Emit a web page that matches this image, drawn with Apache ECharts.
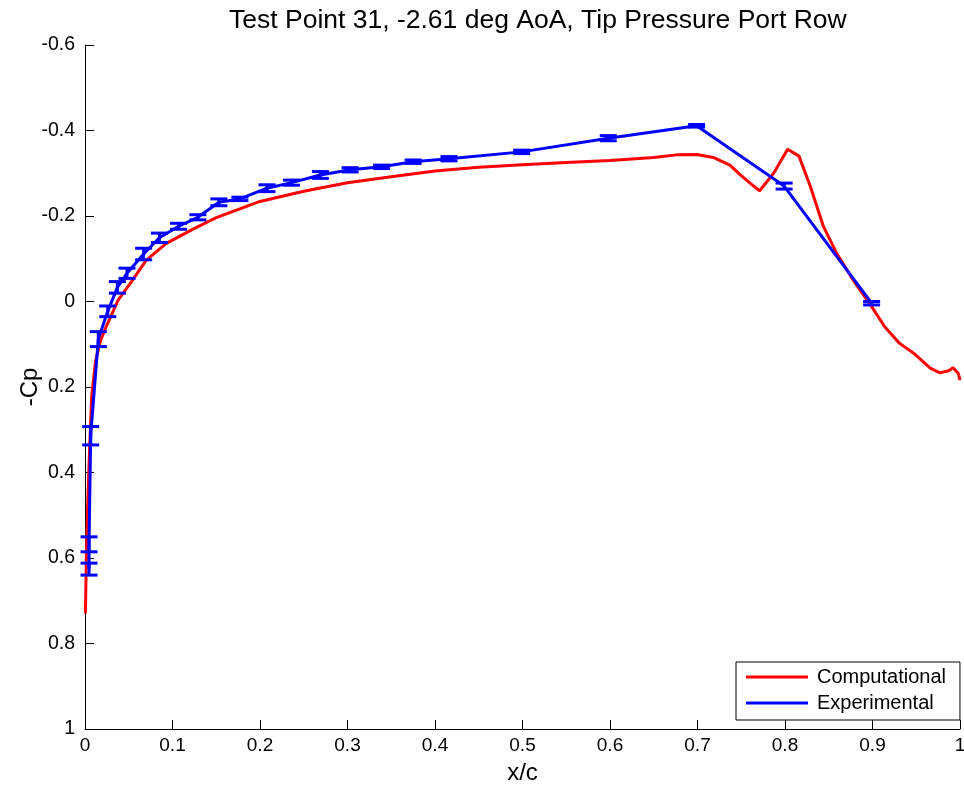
<!DOCTYPE html>
<html>
<head>
<meta charset="utf-8">
<script src="https://cdn.jsdelivr.net/npm/echarts@6/dist/echarts.min.js"></script>
<style>
html,body{margin:0;padding:0;background:#fff;overflow:hidden;}
#chart{width:964px;height:790px;}
</style>
</head>
<body>
<div id="chart"></div>
<script>
// Computational (CFD) -Cp distribution
var compX = [0.0005,0.0015,0.003,0.005,0.0076,0.012,0.018,0.025,0.038,0.053,0.07,0.093,0.124,0.15,0.20,0.25,0.30,0.35,0.40,0.45,0.50,0.55,0.60,0.65,0.676,0.699,0.718,0.737,0.749,0.76,0.771,0.787,0.803,0.816,0.829,0.844,0.859,0.878,0.899,0.914,0.931,0.947,0.966,0.977,0.987,0.992,0.998,1.0];
var compY = [0.73,0.60,0.48,0.36,0.223,0.14,0.09,0.055,-0.004,-0.046,-0.097,-0.136,-0.170,-0.196,-0.234,-0.258,-0.278,-0.292,-0.305,-0.314,-0.320,-0.325,-0.330,-0.337,-0.343,-0.344,-0.337,-0.319,-0.296,-0.277,-0.259,-0.30,-0.356,-0.340,-0.269,-0.175,-0.113,-0.050,0.012,0.059,0.098,0.121,0.156,0.167,0.162,0.155,0.168,0.184];

// Experimental pressure ports
var expX = [0.0046,0.0046,0.0065,0.0152,0.026,0.037,0.048,0.067,0.085,0.107,0.129,0.153,0.177,0.208,0.236,0.269,0.303,0.339,0.375,0.416,0.499,0.598,0.699,0.799,0.899];
var expY = [0.626,0.568,0.314,0.088,0.023,-0.033,-0.066,-0.111,-0.149,-0.176,-0.197,-0.232,-0.240,-0.265,-0.278,-0.296,-0.308,-0.315,-0.327,-0.334,-0.350,-0.382,-0.411,-0.270,0.004];
var expErr = [0.014,0.0175,0.0215,0.0175,0.0125,0.0135,0.012,0.0135,0.011,0.007,0.006,0.008,0.004,0.008,0.006,0.008,0.005,0.004,0.004,0.005,0.004,0.006,0.003,0.007,0.004];

var xTicks = ['0','0.1','0.2','0.3','0.4','0.5','0.6','0.7','0.8','0.9','1'];
var yTicks = ['-0.6','-0.4','-0.2','0','0.2','0.4','0.6','0.8','1'];

var titleText = 'Test Point 31, -2.61 deg AoA, Tip Pressure Port Row';
var FONT = 'Liberation Sans, Arial, sans-serif';

var compData = compX.map(function(x,i){return [x, compY[i]];});
var expData = expX.map(function(x,i){return [x, expY[i]];});
var errData = expX.map(function(x,i){return [x, expY[i], expErr[i]];});

var chart = echarts.init(document.getElementById('chart'), null, {renderer:'canvas', width:964, height:790});
chart.setOption({
  animation:false,
  backgroundColor:'#fff',
  title:{
    text:titleText,
    left:224, top:2,
    textStyle:{fontFamily:FONT, fontSize:26.5, fontWeight:'normal', color:'#000'}
  },
  legend:{
    orient:'vertical',
    left:736, top:662,
    backgroundColor:'#fff',
    borderColor:'#000', borderWidth:1, borderRadius:0,
    padding:[5,14,7,10],
    itemWidth:62, itemHeight:3, itemGap:6,
    icon:'rect',
    textStyle:{fontFamily:FONT, fontSize:20, color:'#000', lineHeight:20, padding:[0,0,0,4]},
    data:['Computational','Experimental']
  },
  grid:{left:85, right:4, top:45, bottom:61, containLabel:false, outerBoundsMode:'none'},
  xAxis:{
    type:'value', min:0, max:1, interval:0.1,
    name:'x/c', nameLocation:'middle', nameGap:32, nameMoveOverlap:false,
    nameTextStyle:{fontFamily:FONT, fontSize:24, color:'#000'},
    axisLine:{show:true, onZero:false, lineStyle:{color:'#000', width:1}},
    axisTick:{show:true, inside:true, length:9, lineStyle:{color:'#000'}},
    axisLabel:{fontFamily:FONT, fontSize:19, color:'#000', margin:7,
      formatter:function(v){return xTicks[Math.round(v*10)];}},
    splitLine:{show:false}
  },
  yAxis:{
    type:'value', min:-0.6, max:1, interval:0.2, inverse:true,
    name:'-Cp', nameLocation:'middle', nameGap:43, nameRotate:90, nameMoveOverlap:false,
    nameTextStyle:{fontFamily:FONT, fontSize:24, color:'#000'},
    axisLine:{show:true, onZero:false, lineStyle:{color:'#000', width:1}},
    axisTick:{show:true, inside:true, length:9, lineStyle:{color:'#000'}},
    axisLabel:{fontFamily:FONT, fontSize:19.5, color:'#000', margin:10,
      formatter:function(v){return yTicks[Math.round((v+0.6)*5)];}},
    splitLine:{show:false}
  },
  series:[
    {
      name:'Computational', type:'line', data:compData,
      showSymbol:false, symbol:'none', smooth:false,
      color:'#ff0000',
      lineStyle:{color:'#ff0000', width:3},
      itemStyle:{color:'#ff0000'},
      z:2
    },
    {
      name:'Experimental', type:'line', data:expData,
      showSymbol:false, symbol:'none', smooth:false,
      color:'#0000ff',
      lineStyle:{color:'#0000ff', width:3},
      itemStyle:{color:'#0000ff'},
      z:3
    },
    {
      name:'errbar', type:'custom', data:errData,
      z:4,
      renderItem:function(params, api){
        var x = api.value(0), y = api.value(1), e = api.value(2);
        var p1 = api.coord([x, y - e]);
        var p2 = api.coord([x, y + e]);
        var hw = 8.5;
        var st = {stroke:'#0000ff', lineWidth:3};
        return {type:'group', children:[
          {type:'line', shape:{x1:p1[0], y1:p1[1], x2:p2[0], y2:p2[1]}, style:st},
          {type:'line', shape:{x1:p1[0]-hw, y1:p1[1], x2:p1[0]+hw, y2:p1[1]}, style:st},
          {type:'line', shape:{x1:p2[0]-hw, y1:p2[1], x2:p2[0]+hw, y2:p2[1]}, style:st}
        ]};
      }
    }
  ]
});
</script>
</body>
</html>
